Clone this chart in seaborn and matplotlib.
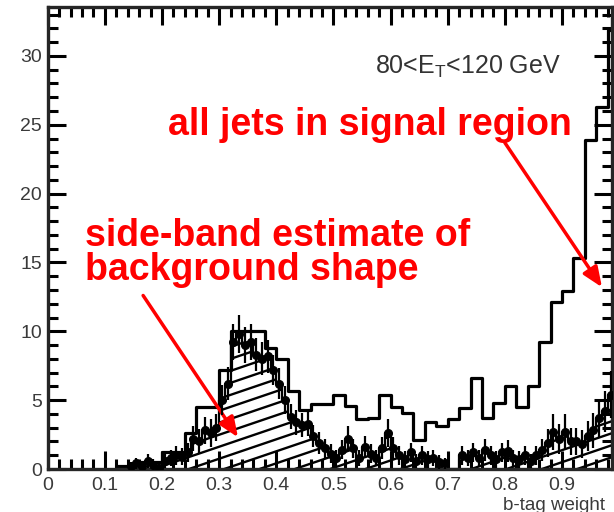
import numpy as np
import matplotlib
matplotlib.use("Agg")
import matplotlib.pyplot as plt
from matplotlib.collections import LineCollection
import seaborn as sns

# ---------------- data ----------------
# all jets in signal region: 0.02-wide bins, lower edges 0.12 ... 0.98
all_lo = np.round(np.arange(0.12, 0.995, 0.02), 2)
all_counts = [0.2, 0.3, 0.5, 0.5,
              1.2, 1.2, 2.6, 4.5, 4.5, 7.2, 10.0, 10.0, 10.0, 8.8,
              8.0, 5.7, 4.3, 4.7, 4.7, 5.4, 4.6, 3.6, 3.7, 5.4,
              4.5, 4.1, 2.1, 3.4, 3.1, 3.6, 4.4, 6.6, 3.7, 4.8,
              6.0, 4.5, 6.0, 9.2, 12.1, 12.9, 15.3, 23.9, 26.3, 31.9]

# side-band estimate of background shape: 0.01-wide bins, lower edges 0.13 ... 0.98
sb_lo = np.round(np.arange(0.13, 0.985, 0.01), 2)
sb_counts = [0.0, 0.2, 0.4, 0.2, 0.6, 0.3, 0.1, 0.6, 0.8, 1.0,
             0.9, 1.2, 2.2, 2.0, 2.8, 2.6, 3.0, 5.0, 6.2, 9.2,
             9.8, 9.0, 9.2, 8.3, 8.0, 8.2, 7.2, 6.2, 5.0, 3.8,
             3.4, 3.2, 3.3, 2.4, 1.9, 1.5, 1.1, 0.8, 1.4, 2.2,
             1.5, 0.8, 1.6, 1.1, 0.8, 1.5, 2.6, 1.5, 1.0, 0.7,
             1.2, 0.6, 1.0, 0.7, 0.8, 0.5, 0.4, 0.0, 0.0, 1.0,
             0.8, 1.2, 0.8, 1.4, 1.0, 0.7, 1.2, 1.3, 0.8, 0.7,
             1.0, 0.6, 1.0, 1.4, 1.9, 2.7, 2.2, 2.7, 2.0, 2.0,
             1.8, 2.4, 2.8, 3.7, 4.2, 5.4]
sb_errors = [0.0, 0.3, 0.4, 0.3, 0.5, 0.4, 0.3, 0.5, 0.6, 0.7,
             0.6, 0.7, 0.9, 0.9, 1.0, 1.0, 1.0, 1.1, 1.2, 1.3,
             1.4, 1.3, 1.3, 1.2, 1.2, 1.2, 1.1, 1.1, 1.0, 0.9,
             0.9, 0.9, 0.9, 0.8, 0.8, 0.7, 0.7, 0.6, 0.7, 0.9,
             0.7, 0.6, 0.8, 0.7, 0.6, 0.8, 1.0, 0.8, 0.7, 0.6,
             0.7, 0.5, 0.7, 0.6, 0.6, 0.5, 0.4, 0.0, 0.0, 0.7,
             0.6, 0.7, 0.6, 0.8, 0.7, 0.6, 0.7, 0.8, 0.6, 0.6,
             0.7, 0.5, 0.7, 0.8, 1.0, 1.3, 1.1, 1.3, 1.0, 1.0,
             1.0, 1.1, 1.3, 1.4, 1.5, 1.7]

x_ticks = [0, 0.1, 0.2, 0.3, 0.4, 0.5, 0.6, 0.7, 0.8, 0.9]
x_tick_labels = ["0", "0.1", "0.2", "0.3", "0.4", "0.5", "0.6", "0.7", "0.8", "0.9"]
y_ticks = [0, 5, 10, 15, 20, 25, 30]
y_tick_labels = ["0", "5", "10", "15", "20", "25", "30"]

label_signal = "all jets in signal region"
label_sideband = "side-band estimate of\nbackground shape"
label_range = r"80<E$_{\mathrm{T}}$<120 GeV"
x_title = "b-tag weight"

# ---------------- style ----------------
sns.set_style("ticks")
plt.rcParams["font.family"] = ["Liberation Sans", "DejaVu Sans"]
plt.rcParams["mathtext.fontset"] = "custom"
plt.rcParams["mathtext.rm"] = "Liberation Sans"
plt.rcParams["mathtext.it"] = "Liberation Sans:italic"

W, H = 614, 512
fig = plt.figure(figsize=(W / 100, H / 100), dpi=100)
ax_l, ax_r, ax_b, ax_t = 47.7, 612.5, 469, 7
ax = fig.add_axes([ax_l / W, 1 - ax_b / H, (ax_r - ax_l) / W, (ax_b - ax_t) / H])

all_edges = [float(v) for v in np.append(all_lo, all_lo[-1] + 0.02)]
sb_edges = [float(v) for v in np.append(sb_lo, sb_lo[-1] + 0.01)]
all_centers = all_lo + 0.01
sb_centers = sb_lo + 0.005

# side-band filled region used as clip for slanted hatch lines
sb_patch = ax.stairs(sb_counts, sb_edges, fill=True, facecolor="none",
                     edgecolor="none", baseline=0)

# slanted hatching (style only) in axes-pixel space
axw, axh = ax_r - ax_l, ax_b - ax_t
slope_px = 0.34
spacing_px = 12.0
segs = []
for c in np.arange(-slope_px * axw, axh + spacing_px, spacing_px):
    segs.append([(0, c / axh), (1, (c + slope_px * axw) / axh)])
lc = LineCollection(segs, colors="black", linewidths=1.7, transform=ax.transAxes)
ax.add_collection(lc)
lc.set_clip_path(sb_patch)

# side-band outline
sns.histplot(x=list(sb_centers), weights=list(sb_counts), bins=sb_edges,
             element="step", fill=False, color="black", linewidth=1.6, ax=ax)

# all jets histogram
sns.histplot(x=list(all_centers), weights=list(all_counts), bins=all_edges,
             element="step", fill=False, color="black", linewidth=2.3, ax=ax)

# side-band points with errors
sb_arr = np.array(sb_counts)
err_arr = np.array(sb_errors)
mask = sb_arr > 0
ax.errorbar(sb_centers[mask], sb_arr[mask], yerr=err_arr[mask], xerr=0.005,
            fmt="o", ms=5.5, color="black", elinewidth=1.6, capsize=0, zorder=5)

# ---------------- axes ----------------
ax.set_xlim(0, (ax_r - ax_l) / 571.4)
ax.set_ylim(0, (ax_b - ax_t) / 13.77)
ax.set_xticks(x_ticks)
ax.set_xticklabels(x_tick_labels)
ax.set_yticks(y_ticks)
ax.set_yticklabels(y_tick_labels)
ax.set_xticks(np.arange(0, 0.99, 0.02), minor=True)
ax.set_yticks(np.arange(0, 34, 1), minor=True)
ax.set_xlabel("")
ax.set_ylabel("")
for s in ax.spines.values():
    s.set_linewidth(2.4)
    s.set_visible(True)
ax.tick_params(which="both", direction="in", top=True, right=True, width=2.2,
               colors="black", labelcolor="#3a3a3a", labelsize=14)
ax.tick_params(which="major", length=13)
ax.tick_params(which="minor", length=7)
ax.tick_params(axis="y", pad=4)
ax.tick_params(axis="x", pad=6)

# ---------------- texts ----------------
ax.text(0.573, 29.2, label_range, fontsize=18, color="#333333", ha="left", va="center")
ax.text(0.211, 25.0, label_signal, fontsize=27, fontweight="bold", color="#ff0000",
        ha="left", va="center")
ax.text(0.065, 15.7, label_sideband, fontsize=27, fontweight="bold", color="#ff0000",
        ha="left", va="center", linespacing=0.92)

ax.annotate("", xy=(0.970, 13.2), xytext=(0.80, 23.7),
            arrowprops=dict(arrowstyle="-|>,head_length=1.2,head_width=0.5",
                            color="#ff0000", lw=2.5, shrinkA=0, shrinkB=0))
ax.annotate("", xy=(0.333, 2.3), xytext=(0.167, 12.6),
            arrowprops=dict(arrowstyle="-|>,head_length=1.2,head_width=0.5",
                            color="#ff0000", lw=2.5, shrinkA=0, shrinkB=0))

fig.text(503 / W, 1 - 505 / H, x_title, fontsize=13.5, color="#3a3a3a",
         ha="left", va="center")

fig.savefig("out.png", dpi=100)
